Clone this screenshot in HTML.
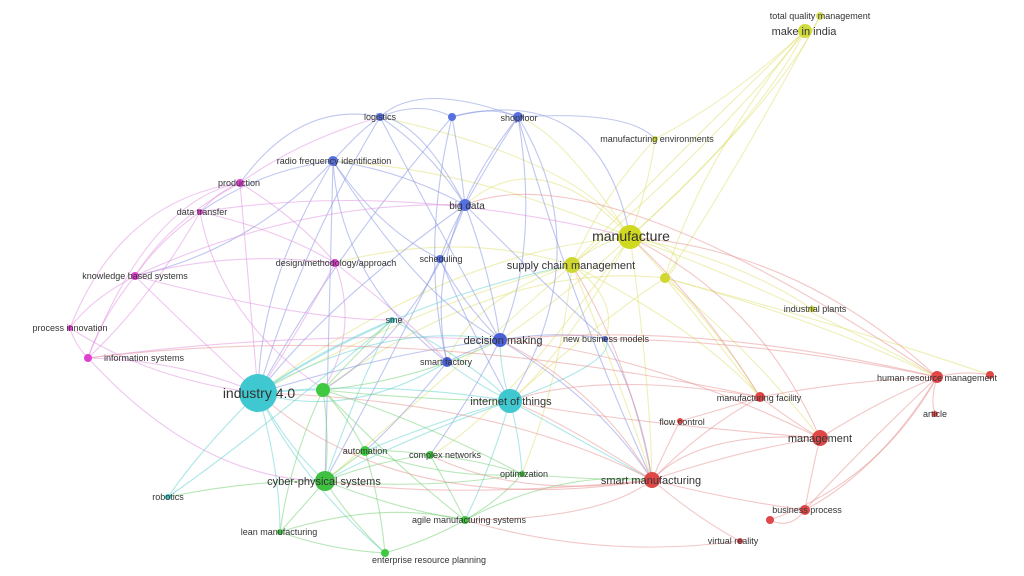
<!DOCTYPE html>
<html><head><meta charset="utf-8"><style>
html,body{margin:0;padding:0;background:#fff;}
svg{display:block;}
text{font-family:"Liberation Sans",sans-serif;fill:#333;}
</style></head><body>
<svg width="1024" height="576" viewBox="0 0 1024 576">
<g fill="none" stroke-width="1.1" stroke-opacity="0.5">
<!-- yellow -->
<g stroke="#e0e070">
<path d="M630 237 Q760 120 805 31"/><path d="M572 265 Q720 140 805 31"/><path d="M630 237 Q780 100 820 16"/>
<path d="M630 237 Q650 180 655 139"/><path d="M630 237 Q740 260 812 309"/><path d="M572 265 Q600 240 630 237"/>
<path d="M630 237 Q540 140 465 205"/><path d="M630 237 Q560 130 518 117"/><path d="M630 237 Q560 300 500 340"/>
<path d="M630 237 Q560 360 510 401"/><path d="M630 237 Q450 250 258 393"/><path d="M572 265 Q430 300 258 393"/>
<path d="M630 237 Q800 300 937 377"/><path d="M665 278 Q820 320 937 377"/><path d="M630 237 Q650 380 652 480"/>
<path d="M572 265 Q620 380 652 480"/><path d="M665 278 Q760 360 820 438"/><path d="M572 265 Q460 230 335 263"/>
<path d="M630 237 Q700 250 665 278"/><path d="M572 265 Q420 400 325 481"/><path d="M805 31 Q700 160 665 278"/>
<path d="M630 237 Q580 160 380 117"/><path d="M572 265 Q620 300 605 339"/>
<path d="M805 31 Q730 100 655 139"/><path d="M805 31 Q680 150 572 265"/><path d="M820 16 Q720 200 665 278"/>
<path d="M665 278 Q600 320 510 401"/><path d="M665 278 Q700 320 760 397"/><path d="M572 265 Q700 330 760 397"/>
<path d="M630 237 Q720 330 760 397"/><path d="M572 265 Q470 300 447 362"/><path d="M665 278 Q500 260 323 390"/>
<path d="M630 237 Q500 420 430 455"/><path d="M572 265 Q560 380 522 474"/><path d="M665 278 Q860 330 990 375"/>
<path d="M655 139 Q600 200 572 265"/><path d="M630 237 Q480 170 333 161"/>
</g>
<!-- blue -->
<g stroke="#8090e0">
<path d="M380 117 Q420 100 452 117"/><path d="M452 117 Q490 105 518 117"/><path d="M380 117 Q360 130 333 161"/>
<path d="M333 161 Q400 170 465 205"/><path d="M380 117 Q430 150 465 205"/><path d="M518 117 Q490 160 465 205"/>
<path d="M452 117 Q460 160 465 205"/><path d="M465 205 Q450 230 440 259"/><path d="M465 205 Q490 270 500 340"/>
<path d="M440 259 Q460 300 500 340"/><path d="M500 340 Q470 350 447 362"/><path d="M333 161 Q340 280 447 362"/>
<path d="M518 117 Q540 250 500 340"/><path d="M333 161 Q260 280 258 393"/><path d="M380 117 Q300 250 258 393"/>
<path d="M452 117 Q330 260 258 393"/><path d="M518 117 Q600 250 510 401"/><path d="M465 205 Q330 300 258 393"/>
<path d="M500 340 Q400 350 258 393"/><path d="M500 340 Q560 330 605 339"/><path d="M333 161 Q330 300 325 481"/>
<path d="M380 117 Q300 100 240 183"/><path d="M333 161 Q260 170 200 212"/><path d="M518 117 Q630 110 655 139"/>
<path d="M452 117 Q600 80 630 237"/><path d="M333 161 Q250 250 135 276"/><path d="M440 259 Q380 380 325 481"/>
<path d="M500 340 Q600 400 652 480"/><path d="M465 205 Q420 120 380 117"/><path d="M518 117 Q420 240 447 362"/>
<path d="M380 117 Q450 250 500 340"/><path d="M452 117 Q420 250 447 362"/><path d="M333 161 Q420 300 500 340"/>
<path d="M518 117 Q570 300 652 480"/><path d="M465 205 Q420 330 323 390"/><path d="M440 259 Q470 330 510 401"/>
<path d="M447 362 Q400 420 365 451"/><path d="M500 340 Q470 400 430 455"/><path d="M605 339 Q640 400 652 480"/>
<path d="M380 117 Q420 80 518 117"/><path d="M465 205 Q560 300 605 339"/><path d="M333 161 Q380 230 440 259"/>
</g>
<!-- magenta -->
<g stroke="#e090e0">
<path d="M240 183 Q220 190 200 212"/><path d="M240 183 Q170 220 135 276"/><path d="M200 212 Q160 240 135 276"/>
<path d="M135 276 Q90 300 70 328"/><path d="M135 276 Q100 320 88 358"/><path d="M70 328 Q75 345 88 358"/>
<path d="M200 212 Q150 300 88 358"/><path d="M240 183 Q300 220 335 263"/><path d="M200 212 Q280 230 335 263"/>
<path d="M135 276 Q230 250 335 263"/><path d="M88 358 Q180 360 258 393"/><path d="M135 276 Q200 340 258 393"/>
<path d="M240 183 Q250 300 258 393"/><path d="M70 328 Q150 380 258 393"/><path d="M200 212 Q220 320 325 390"/>
<path d="M88 358 Q200 480 325 481"/><path d="M88 358 Q150 200 240 183"/><path d="M70 328 Q120 200 240 183"/>
<path d="M88 358 Q300 330 500 340"/><path d="M135 276 Q300 200 465 205"/>
<path d="M335 263 Q300 330 258 393"/><path d="M335 263 Q360 330 323 390"/><path d="M335 263 Q420 330 447 362"/>
<path d="M200 212 Q400 180 630 237"/><path d="M240 183 Q300 140 380 117"/><path d="M135 276 Q300 320 392 320"/>
</g>
<!-- teal -->
<g stroke="#60d0d0">
<path d="M258 393 Q380 380 510 401"/><path d="M258 393 Q320 350 392 320"/><path d="M258 393 Q200 450 168 497"/>
<path d="M510 401 Q470 360 392 320"/><path d="M258 393 Q350 420 447 362"/><path d="M510 401 Q500 370 500 340"/>
<path d="M510 401 Q470 380 447 362"/><path d="M258 393 Q290 450 325 481"/><path d="M510 401 Q400 440 325 481"/>
<path d="M510 401 Q520 440 522 474"/><path d="M510 401 Q490 470 465 520"/><path d="M258 393 Q300 480 385 553"/>
<path d="M168 497 Q250 440 392 320"/><path d="M510 401 Q620 360 605 339"/><path d="M258 393 Q280 470 280 532"/>
<path d="M258 393 Q380 320 500 340"/><path d="M258 393 Q300 390 323 390"/><path d="M510 401 Q440 420 365 451"/>
<path d="M392 320 Q360 380 325 481"/><path d="M258 393 Q400 300 572 265"/><path d="M510 401 Q580 440 652 480"/>
</g>
<!-- green -->
<g stroke="#70d070">
<path d="M323 390 Q350 420 365 451"/><path d="M323 390 Q330 440 325 481"/><path d="M365 451 Q400 450 430 455"/>
<path d="M325 481 Q345 465 365 451"/><path d="M325 481 Q380 460 430 455"/><path d="M325 481 Q400 510 465 520"/>
<path d="M325 481 Q300 510 280 532"/><path d="M325 481 Q350 520 385 553"/><path d="M430 455 Q480 460 522 474"/>
<path d="M465 520 Q500 500 522 474"/><path d="M385 553 Q430 540 465 520"/><path d="M280 532 Q330 550 385 553"/>
<path d="M323 390 Q420 420 522 474"/><path d="M323 390 Q400 470 465 520"/><path d="M430 455 Q450 490 465 520"/>
<path d="M365 451 Q380 500 385 553"/><path d="M323 390 Q360 350 392 320"/><path d="M522 474 Q590 480 652 480"/>
<path d="M465 520 Q560 470 652 480"/><path d="M323 390 Q420 380 500 340"/>
<path d="M323 390 Q420 400 510 401"/><path d="M365 451 Q450 480 522 474"/><path d="M280 532 Q380 500 465 520"/>
<path d="M325 481 Q430 490 522 474"/><path d="M168 497 Q250 480 325 481"/><path d="M323 390 Q290 460 280 532"/>
</g>
<!-- red -->
<g stroke="#e89090">
<path d="M937 377 Q965 370 990 375"/><path d="M937 377 Q930 400 935 414"/><path d="M937 377 Q880 400 820 438"/>
<path d="M760 397 Q790 420 820 438"/><path d="M760 397 Q700 430 652 480"/><path d="M820 438 Q740 450 652 480"/>
<path d="M680 421 Q665 450 652 480"/><path d="M652 480 Q730 500 805 510"/><path d="M652 480 Q700 520 740 541"/>
<path d="M805 510 Q790 530 770 520"/><path d="M820 438 Q810 480 805 510"/><path d="M937 377 Q850 460 805 510"/>
<path d="M760 397 Q850 380 937 377"/><path d="M937 377 Q880 480 770 520"/><path d="M760 397 Q720 410 680 421"/>
<path d="M652 480 Q560 420 510 401"/><path d="M652 480 Q600 390 500 340"/><path d="M652 480 Q500 400 258 393"/>
<path d="M760 397 Q600 370 510 401"/><path d="M820 438 Q640 350 500 340"/><path d="M937 377 Q700 320 500 340"/>
<path d="M652 480 Q450 500 325 481"/><path d="M740 541 Q600 560 465 520"/><path d="M937 377 Q800 250 630 237"/>
<path d="M820 438 Q760 300 630 237"/><path d="M937 377 Q600 150 465 205"/><path d="M652 480 Q630 360 572 265"/>
<path d="M652 480 Q400 520 258 393"/><path d="M820 438 Q600 420 510 401"/><path d="M760 397 Q700 300 630 237"/>
<path d="M652 480 Q700 430 820 438"/><path d="M937 377 Q760 340 605 339"/><path d="M652 480 Q520 500 430 455"/>
<path d="M652 480 Q600 520 465 520"/><path d="M805 510 Q880 470 937 377"/><path d="M88 358 Q400 320 760 397"/>
</g>
</g>
<!-- nodes -->
<g>
<circle cx="820" cy="16" r="4" fill="#d8e060"/><circle cx="805" cy="31" r="7" fill="#d0dc40"/>
<circle cx="655" cy="139" r="3" fill="#d0dc40"/><circle cx="630" cy="237" r="12" fill="#d0d820"/>
<circle cx="572" cy="265" r="8" fill="#d0d830"/><circle cx="665" cy="278" r="5" fill="#d0d830"/>
<circle cx="812" cy="309" r="3" fill="#d0d830"/>
<circle cx="380" cy="117" r="4" fill="#5570e0"/><circle cx="452" cy="117" r="4" fill="#5570e0"/>
<circle cx="518" cy="117" r="5" fill="#5570e0"/><circle cx="333" cy="161" r="5" fill="#5570e0"/>
<circle cx="465" cy="205" r="6" fill="#5570e0"/><circle cx="440" cy="259" r="4" fill="#5570e0"/>
<circle cx="500" cy="340" r="7" fill="#4a60d8"/><circle cx="447" cy="362" r="5" fill="#4a60d8"/>
<circle cx="605" cy="339" r="3" fill="#5570e0"/>
<circle cx="335" cy="263" r="4" fill="#e040d0"/><circle cx="240" cy="183" r="4" fill="#e040d0"/>
<circle cx="200" cy="212" r="3" fill="#e040d0"/><circle cx="135" cy="276" r="4" fill="#e040d0"/>
<circle cx="70" cy="328" r="3" fill="#e040d0"/><circle cx="88" cy="358" r="4" fill="#e040d0"/>
<circle cx="392" cy="320" r="3" fill="#40c8c8"/><circle cx="258" cy="393" r="19" fill="#40c8d0"/>
<circle cx="510" cy="401" r="12" fill="#40c8d0"/><circle cx="168" cy="497" r="3" fill="#40c8c8"/>
<circle cx="323" cy="390" r="7" fill="#40c840"/><circle cx="365" cy="451" r="5" fill="#40c840"/>
<circle cx="430" cy="455" r="4" fill="#40c840"/><circle cx="325" cy="481" r="10" fill="#40c040"/>
<circle cx="522" cy="474" r="3" fill="#40c840"/><circle cx="465" cy="520" r="4" fill="#40c840"/>
<circle cx="280" cy="532" r="3" fill="#40c840"/><circle cx="385" cy="553" r="4" fill="#40c840"/>
<circle cx="937" cy="377" r="6" fill="#e04848"/><circle cx="990" cy="375" r="4" fill="#e04848"/>
<circle cx="935" cy="414" r="3" fill="#e04848"/><circle cx="760" cy="397" r="5" fill="#e04848"/>
<circle cx="820" cy="438" r="8" fill="#e04848"/><circle cx="680" cy="421" r="3" fill="#e04848"/>
<circle cx="652" cy="480" r="8" fill="#e04848"/><circle cx="805" cy="510" r="5" fill="#e04848"/>
<circle cx="740" cy="541" r="3" fill="#e04848"/><circle cx="770" cy="520" r="4" fill="#e04848"/>
</g>
<!-- labels -->
<g font-size="9" text-anchor="middle">
<text x="820" y="19">total quality management</text>
<text x="804" y="35" font-size="11">make in india</text>
<text x="657" y="142">manufacturing environments</text>
<text x="631" y="241" font-size="14">manufacture</text>
<text x="571" y="269" font-size="11">supply chain management</text>
<text x="815" y="312">industrial plants</text>
<text x="380" y="120">logistics</text>
<text x="519" y="121">shopfloor</text>
<text x="334" y="164">radio frequency identification</text>
<text x="467" y="209" font-size="10">big data</text>
<text x="441" y="262">scheduling</text>
<text x="336" y="266">design/methodology/approach</text>
<text x="503" y="344" font-size="11">decision making</text>
<text x="446" y="365">smart factory</text>
<text x="606" y="342">new business models</text>
<text x="394" y="323">sme</text>
<text x="239" y="186">production</text>
<text x="202" y="215">data transfer</text>
<text x="135" y="279">knowledge based systems</text>
<text x="70" y="331">process innovation</text>
<text x="144" y="361">information systems</text>
<text x="259" y="398" font-size="14">industry 4.0</text>
<text x="511" y="405" font-size="11">internet of things</text>
<text x="168" y="500">robotics</text>
<text x="365" y="454">automation</text>
<text x="445" y="458">complex networks</text>
<text x="324" y="485" font-size="11">cyber-physical systems</text>
<text x="524" y="477">optimization</text>
<text x="469" y="523">agile manufacturing systems</text>
<text x="279" y="535">lean manufacturing</text>
<text x="429" y="563">enterprise resource planning</text>
<text x="937" y="381">human resource management</text>
<text x="935" y="417">article</text>
<text x="759" y="401">manufacturing facility</text>
<text x="682" y="425">flow control</text>
<text x="820" y="442" font-size="11">management</text>
<text x="651" y="484" font-size="11">smart manufacturing</text>
<text x="807" y="513">business process</text>
<text x="733" y="544">virtual reality</text>
</g>
</svg>
</body></html>
